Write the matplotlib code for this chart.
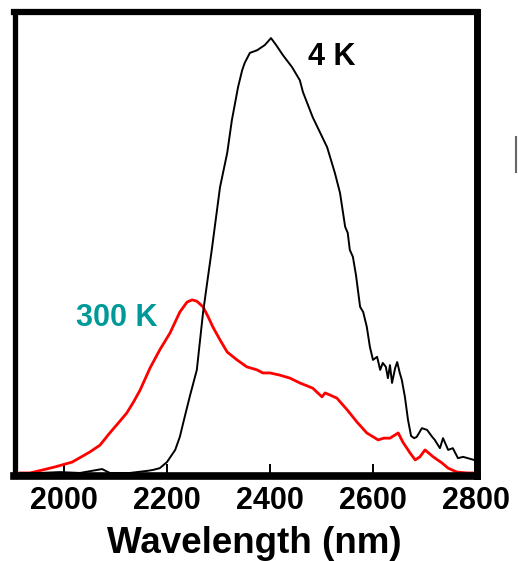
import matplotlib
matplotlib.use("Agg")
import matplotlib.pyplot as plt
from matplotlib.lines import Line2D

plt.rcParams['font.family'] = ['Liberation Sans', 'DejaVu Sans']

# 4 K spectrum (wavelength nm, intensity a.u.)
wl_4k = [1915, 1953, 1992, 2031, 2074, 2089, 2128, 2163, 2173, 2186, 2200, 2216, 2225, 2233,
         2245, 2258, 2270, 2278, 2287, 2303, 2317, 2326, 2338, 2346, 2351, 2361, 2375, 2390,
         2402, 2412, 2425, 2443, 2458, 2464, 2483, 2511, 2526, 2536, 2546, 2551, 2555, 2561,
         2567, 2575, 2581, 2588, 2594, 2600, 2608, 2614, 2619, 2625, 2629, 2633, 2637, 2643,
         2647, 2652, 2656, 2662, 2668, 2674, 2680, 2685, 2695, 2705, 2715, 2720, 2730, 2736,
         2746, 2755, 2765, 2775, 2784, 2796]
int_4k = [0.0, 0.0, 0.002, 0.0, 0.009, 0.0, 0.0, 0.005, 0.007, 0.011, 0.025, 0.053, 0.083, 0.122,
          0.179, 0.237, 0.368, 0.437, 0.513, 0.657, 0.736, 0.811, 0.887, 0.926, 0.943, 0.966, 0.972, 0.984,
          1.0, 0.984, 0.961, 0.933, 0.903, 0.876, 0.818, 0.749, 0.690, 0.644, 0.566, 0.552, 0.513, 0.497,
          0.455, 0.382, 0.370, 0.336, 0.290, 0.260, 0.267, 0.237, 0.253, 0.244, 0.218, 0.248, 0.207, 0.241,
          0.255, 0.230, 0.214, 0.175, 0.122, 0.085, 0.080, 0.083, 0.103, 0.099, 0.083, 0.076, 0.057, 0.080,
          0.053, 0.057, 0.034, 0.037, 0.034, 0.030]

# 300 K spectrum
wl_300k = [1915, 1934, 1959, 1983, 2016, 2050, 2070, 2089, 2105, 2122, 2135, 2148, 2167, 2186, 2206, 2225,
           2239, 2249, 2258, 2270, 2280, 2289, 2303, 2317, 2336, 2355, 2375, 2386, 2400, 2419,
           2439, 2458, 2483, 2501, 2507, 2517, 2530, 2550, 2569, 2588, 2610, 2621, 2633, 2649,
           2658, 2672, 2682, 2691, 2701, 2717, 2734, 2746, 2763, 2783, 2796]
int_300k = [0.0, 0.0, 0.007, 0.014, 0.025, 0.048, 0.064, 0.092, 0.114, 0.138, 0.163, 0.191, 0.241, 0.283, 0.322, 0.370,
            0.393, 0.398, 0.395, 0.382, 0.359, 0.336, 0.306, 0.278, 0.260, 0.244, 0.237, 0.230, 0.230, 0.225,
            0.218, 0.207, 0.195, 0.175, 0.184, 0.179, 0.172, 0.145, 0.117, 0.092, 0.076, 0.080, 0.080, 0.092,
            0.071, 0.046, 0.030, 0.037, 0.053, 0.037, 0.023, 0.011, 0.002, 0.0, 0.0]

xticks = [2000, 2200, 2400, 2600, 2800]
xlabel = "Wavelength (nm)"
label_4k = "4 K"
label_300k = "300 K"

W, H = 518, 561
fig = plt.figure(figsize=(W / 100, H / 100), dpi=100)
ax = fig.add_axes([14.5 / W, 1 - 476 / H, (476.5 - 14.5) / W, (476 - 12) / H])

ax.plot(wl_300k, int_300k, color='#ff0000', lw=2.0, zorder=2)
ax.plot(wl_4k, int_4k, color='black', lw=1.4, zorder=3)

ax.set_xlim(1904, 2801)
ax.set_ylim(-0.007, 1.06)
ax.set_xticks(xticks)
ax.set_xticklabels([str(t) for t in xticks], fontsize=22, fontweight='bold')
ax.tick_params(axis='x', direction='in', length=9, width=1.4, pad=7)
ax.set_yticks([])
ax.set_xlabel(xlabel, fontsize=26.5, fontweight='bold', va='center')
ax.xaxis.set_label_coords(0.52, -0.146)

for side, w in [('left', 3.8), ('bottom', 5.5), ('right', 5.0), ('top', 4.5)]:
    ax.spines[side].set_linewidth(w)
    ax.spines[side].set_color('black')

ax.text(2474, 0.956, label_4k, fontsize=22, fontweight='bold', color='black',
        ha='left', va='center')
ax.text(2102, 0.356, label_300k, fontsize=22, fontweight='bold', color='#009999',
        ha='center', va='center')

fig.add_artist(Line2D([516 / W, 516 / W], [1 - 137 / H, 1 - 172 / H],
                      color='#666666', lw=1.5))

fig.savefig('out.png', dpi=100)
